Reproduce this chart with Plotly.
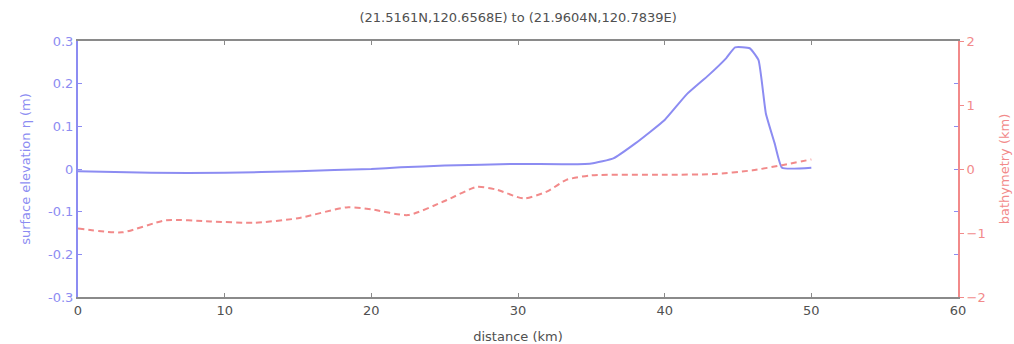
import plotly.graph_objects as go

# surface elevation (m) along the transect
eta_x = [0, 5, 10, 15, 20, 22, 25, 30, 33, 35, 36.5, 38, 40, 41.5, 43, 44.2, 44.8, 45.8, 46.4, 46.9, 47.5, 48, 50]
eta_y = [-0.005, -0.009, -0.009, -0.005, 0.0, 0.004, 0.008, 0.012, 0.011, 0.013, 0.025, 0.06, 0.115, 0.175, 0.22, 0.26, 0.285, 0.283, 0.255, 0.13, 0.06, 0.003, 0.003]

# bathymetry (km) along the transect
bath_x = [0, 3, 6, 9, 12, 15, 18.3, 20, 22.5, 25, 27.2, 28.5, 30.4, 32, 33.3, 35, 40, 43.3, 46, 48, 50]
bath_y = [-0.93, -0.99, -0.8, -0.82, -0.84, -0.77, -0.6, -0.63, -0.72, -0.5, -0.28, -0.32, -0.46, -0.35, -0.17, -0.1, -0.09, -0.08, -0.02, 0.06, 0.15]

x_ticks = [0, 10, 20, 30, 40, 50, 60]
left_ticks = [-0.3, -0.2, -0.1, 0, 0.1, 0.2, 0.3]
left_labels = ["-0.3", "-0.2", "-0.1", "0", "0.1", "0.2", "0.3"]
right_ticks = [-2, -1, 0, 1, 2]

BLUE = "#8c8cf2"
RED = "#f28a8a"
GRAY = "#8a8a8a"
TXT = "#505050"
FONT = "DejaVu Sans, sans-serif"
FS = 13

fig = go.Figure()
fig.add_trace(go.Scatter(x=eta_x, y=eta_y, mode="lines",
                         line=dict(color=BLUE, width=2, shape="spline", smoothing=0.4),
                         showlegend=False, yaxis="y"))
fig.add_trace(go.Scatter(x=bath_x, y=bath_y, mode="lines",
                         line=dict(color=RED, width=2, dash="6px,4px", shape="spline", smoothing=0.6),
                         showlegend=False, yaxis="y2"))

fig.update_layout(
    width=1014, height=344,
    margin=dict(l=78, r=56, t=41, b=47, autoexpand=False),
    paper_bgcolor="white", plot_bgcolor="white",
    font=dict(family=FONT, size=FS, color=TXT),
    title=dict(text="(21.5161N,120.6568E) to (21.9604N,120.7839E)", x=0.511, xanchor="center",
               y=0.95, yanchor="middle", font=dict(size=FS, color=TXT)),
    xaxis=dict(range=[0, 60], tickvals=x_ticks, ticks="inside", ticklen=4, tickcolor=GRAY,
               showline=True, linecolor=GRAY, linewidth=2, mirror="ticks", showgrid=False, zeroline=False,
               automargin=False,
               title=dict(text="distance (km)", standoff=15, font=dict(size=FS, color=TXT)),
               tickfont=dict(size=FS, color=TXT)),
    yaxis=dict(range=[-0.3, 0.3], tickvals=left_ticks, ticktext=left_labels,
               ticks="inside", ticklen=4, tickcolor=BLUE, showline=True, linecolor=BLUE, linewidth=2,
               mirror="ticks", showgrid=False, zeroline=False, automargin=False,
               title=dict(text="surface elevation η (m)", standoff=14, font=dict(size=FS, color=BLUE)),
               tickfont=dict(size=FS, color=BLUE)),
    yaxis2=dict(range=[-2, 2], tickvals=right_ticks, overlaying="y", side="right",
                ticks="outside", ticklen=4, tickcolor=RED, showline=True, linecolor=RED, linewidth=2,
                showgrid=False, zeroline=False, automargin=False,
                title=dict(text="bathymetry (km)", standoff=15, font=dict(size=FS, color=RED)),
                tickfont=dict(size=FS, color=RED)),
)

fig.write_html("out.html")
